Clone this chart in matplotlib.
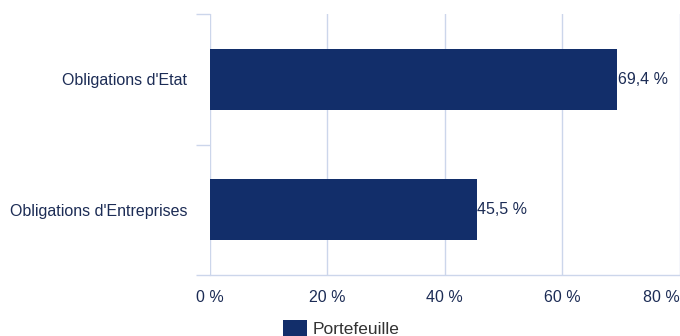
import matplotlib
matplotlib.use("Agg")
import matplotlib.pyplot as plt
from matplotlib.patches import Rectangle

categories = ["Obligations d'Etat", "Obligations d'Entreprises"]
values = [69.4, 45.5]
value_labels = ["69,4 %", "45,5 %"]
xticks = [0, 20, 40, 60, 80]
xtick_labels = ["0 %", "20 %", "40 %", "60 %", "80 %"]
series_name = "Portefeuille"

W, H = 680, 336
bar_color = "#122e6a"
text_color = "#1c2c55"
grid_color = "#ccd6eb"
fs = 11.5
plt.rcParams['font.family'] = ['Liberation Sans', 'DejaVu Sans']

fig = plt.figure(figsize=(W/100, H/100), dpi=100)
ax = fig.add_axes([209.5/W, 1-275/H, 470/W, 261/H])

ypos = list(range(len(categories)))
ax.barh(ypos, values, height=0.47, color=bar_color)
for y, v, lab in zip(ypos, values, value_labels):
    ax.text(v + 0.1, y, lab, va='center', ha='left', fontsize=fs, color=text_color)

ax.set_xlim(0, 80)
ax.set_ylim(len(categories)-0.5, -0.5)
ax.set_xticks(xticks)
ax.set_xticklabels(xtick_labels)
ax.set_yticks(ypos)
ax.set_yticklabels(categories)
ax.set_yticks([-0.5, 0.5, 1.5], minor=True)

ax.grid(axis='x', color=grid_color, linewidth=1)
ax.set_axisbelow(True)
for s in ['top', 'right', 'left']:
    ax.spines[s].set_visible(False)
ax.spines['bottom'].set_color(grid_color)
ax.spines['bottom'].set_linewidth(1)

ax.tick_params(axis='x', length=0, pad=10.5, labelsize=fs, labelcolor=text_color)
ax.tick_params(axis='y', which='major', length=0, pad=16, labelsize=fs, labelcolor=text_color)
ax.tick_params(axis='y', which='minor', length=10, width=1, color=grid_color)
ax.get_xticklabels()[-1].set_horizontalalignment('right')

# legend
fig.patches.append(Rectangle((283/W, 1-338/H), 24/W, 18/H, transform=fig.transFigure,
                             facecolor=bar_color, edgecolor='none'))
fig.text(313/W, 1-329/H, series_name, fontsize=12.5, color='#333333', va='center', ha='left')

fig.savefig("out.png", dpi=100)
